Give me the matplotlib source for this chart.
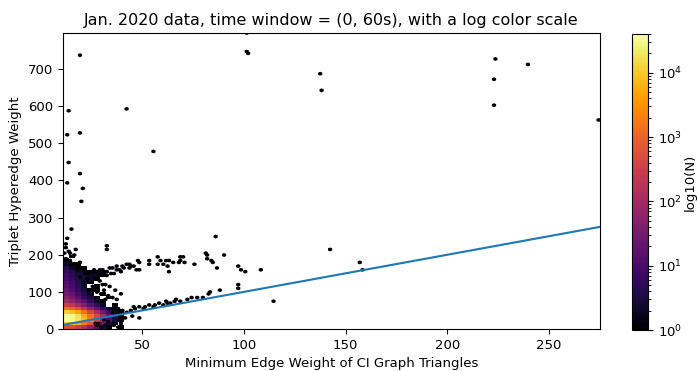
import numpy as np
import matplotlib
matplotlib.use('Agg')
import matplotlib.pyplot as plt
from matplotlib.colors import LogNorm

# dense core: counts per block (x blocks of 3, y blocks of 10)
core_x_edges = [11, 14, 17, 20, 23, 26, 29, 32, 35, 38, 41]
core_y_edges = [0, 10, 20, 30, 40, 50, 60, 70, 80, 90, 100, 110, 120, 130, 140, 150, 160, 170, 180, 190, 200]
core_counts = [
    [600, 500, 300, 150, 50, 15, 4, 1, 0, 1],
    [12000, 10000, 6000, 2000, 600, 120, 20, 4, 1, 0],
    [35000, 30000, 20000, 8000, 2000, 400, 80, 15, 3, 1],
    [35000, 30000, 18000, 6000, 1500, 400, 100, 20, 5, 1],
    [12000, 9000, 5000, 1500, 400, 120, 30, 8, 2, 1],
    [1500, 1000, 500, 200, 60, 20, 6, 2, 1, 0],
    [300, 200, 100, 40, 15, 6, 2, 0, 1, 0],
    [100, 60, 30, 15, 6, 2, 1, 0, 0, 0],
    [50, 30, 15, 6, 3, 1, 0, 1, 0, 0],
    [30, 20, 10, 4, 2, 0, 1, 0, 0, 0],
    [20, 12, 6, 3, 1, 1, 0, 0, 0, 0],
    [15, 10, 5, 2, 0, 1, 0, 0, 0, 0],
    [12, 8, 4, 2, 1, 0, 0, 0, 0, 0],
    [10, 6, 4, 3, 2, 1, 0, 0, 0, 0],
    [8, 5, 3, 3, 2, 2, 1, 0, 0, 0],
    [6, 4, 2, 2, 1, 1, 1, 0, 0, 0],
    [4, 2, 1, 1, 0, 0, 0, 0, 0, 0],
    [2, 1, 1, 0, 0, 0, 0, 0, 0, 0],
    [1, 0, 0, 0, 0, 0, 0, 0, 0, 0],
    [0, 1, 0, 0, 0, 0, 0, 0, 0, 0],
]

# sparse triangles (one each)
pts_x = [19.4, 13.6, 13.1, 18.9, 13.3, 18.9, 13.1, 20.5, 20.0, 15.3, 42.3, 55.9,
         101.9, 101.9, 102.0, 86.6, 32.2, 32.5, 12.8, 12.0, 12.2, 17.2, 14.1,
         89.6, 81.7, 81.9, 85.3, 86.6, 97.8, 98.6, 100.7, 108.1, 114.5,
         138.1, 138.1, 142.7, 156.8, 157.8, 223.7, 222.3, 223.1, 240.0, 274.4,
         # upper branch
         48.1, 48.5, 49.0, 53.0, 53.5, 57.4, 57.5, 59.2, 60.5, 61.7, 63.0, 63.3,
         65.0, 63.3, 68.6, 69.0, 70.7, 68.0, 70.5, 76.0, 83.3, 82.0,
         22, 24, 25, 27, 28, 29, 30, 31, 33, 34, 35, 36, 37, 38, 39, 40, 41, 42,
         43, 44, 45, 46, 47, 26, 32, 36, 40, 20, 23, 21, 18, 17, 19, 15, 13, 16,
         12, 14,
         # lower branch near the diagonal
         37.7, 40.7, 42.6, 45.6, 48.5, 53.8, 56.3, 58.7, 61.2, 67.0, 68.6, 71.9,
         74.3, 76.8, 79.3, 82.5, 83.3, 88.3, 97.8, 97.8, 48.5, 50.5, 55.0, 64.0,
         36.0, 39.0, 44.0, 47.0, 51.5, 60.0, 63.0, 66.0,
         # scatter between the branches
         25.9, 27.6, 28.4, 29.2, 30.8, 31.7, 32.5, 34.1, 35.0, 36.1, 37.4, 39.1,
         27.0, 33.0, 30.0,
         # below the diagonal
         28, 30, 32, 34, 36, 38, 40, 27, 29, 33, 31, 42, 45]
pts_y = [736, 587, 524, 530, 447, 417, 393, 377, 345, 268, 590, 476,
         746, 740, 796, 249, 224, 217, 244, 228, 218, 216, 204,
         199, 206, 190, 179, 166, 168, 159, 156, 159, 74,
         688, 641, 216, 178, 161, 727, 673, 605, 712, 560,
         183, 177, 159, 183, 172, 177, 192, 186, 177, 183, 168, 155,
         177, 186, 183, 192, 195, 177, 178, 175, 186, 200,
         150, 148, 155, 152, 145, 158, 150, 160, 155, 162, 150, 165, 158, 168,
         160, 170, 163, 172, 165, 175, 168, 172, 162, 160, 145, 148, 155, 140,
         135, 160, 165, 175, 180, 185, 190, 200, 205, 210,
         56, 51, 47, 60, 62, 65, 62, 69, 74, 78, 74, 80,
         83, 87, 83, 92, 98, 107, 110, 119, 29, 56, 60, 69,
         45, 48, 52, 55, 58, 65, 70, 72,
         114, 134, 128, 96, 105, 78, 121, 112, 87, 105, 83, 94,
         100, 90, 118,
         8, 5, 12, 3, 10, 6, 14, 18, 15, 20, 22, 30, 35]

fig = plt.figure(figsize=(6.97, 3.71), dpi=100)
ax = fig.add_axes([0.0904, 0.1132, 0.7704, 0.7978])
cax = fig.add_axes([0.9068, 0.1105, 0.023, 0.7978])

norm = LogNorm(vmin=1, vmax=4e4)
core = np.ma.masked_equal(np.array(core_counts, dtype=float), 0)
ax.pcolormesh(core_x_edges, core_y_edges, core, cmap='inferno', norm=norm,
              antialiased=False)

hb = ax.hexbin(pts_x, pts_y, C=np.ones(len(pts_x)), reduce_C_function=np.sum,
               gridsize=(190, 80), extent=(11, 275, 0, 797), cmap='inferno', norm=norm)

ax.plot([11, 275], [11, 275], color='#1f77b4', lw=1.5)
ax.set_xlim(11, 275)
ax.set_ylim(0, 797)
ax.set_title('Jan. 2020 data, time window = (0, 60s), with a log color scale', fontsize=11.5)
ax.set_xlabel('Minimum Edge Weight of CI Graph Triangles', fontsize=9.5)
ax.set_ylabel('Triplet Hyperedge Weight', fontsize=9.5)
ax.tick_params(labelsize=9.5)

cb = fig.colorbar(hb, cax=cax)
cb.set_label('log10(N)', fontsize=9.5, labelpad=1)
cb.ax.tick_params(labelsize=9.5)

fig.savefig('out.png', dpi=100)
